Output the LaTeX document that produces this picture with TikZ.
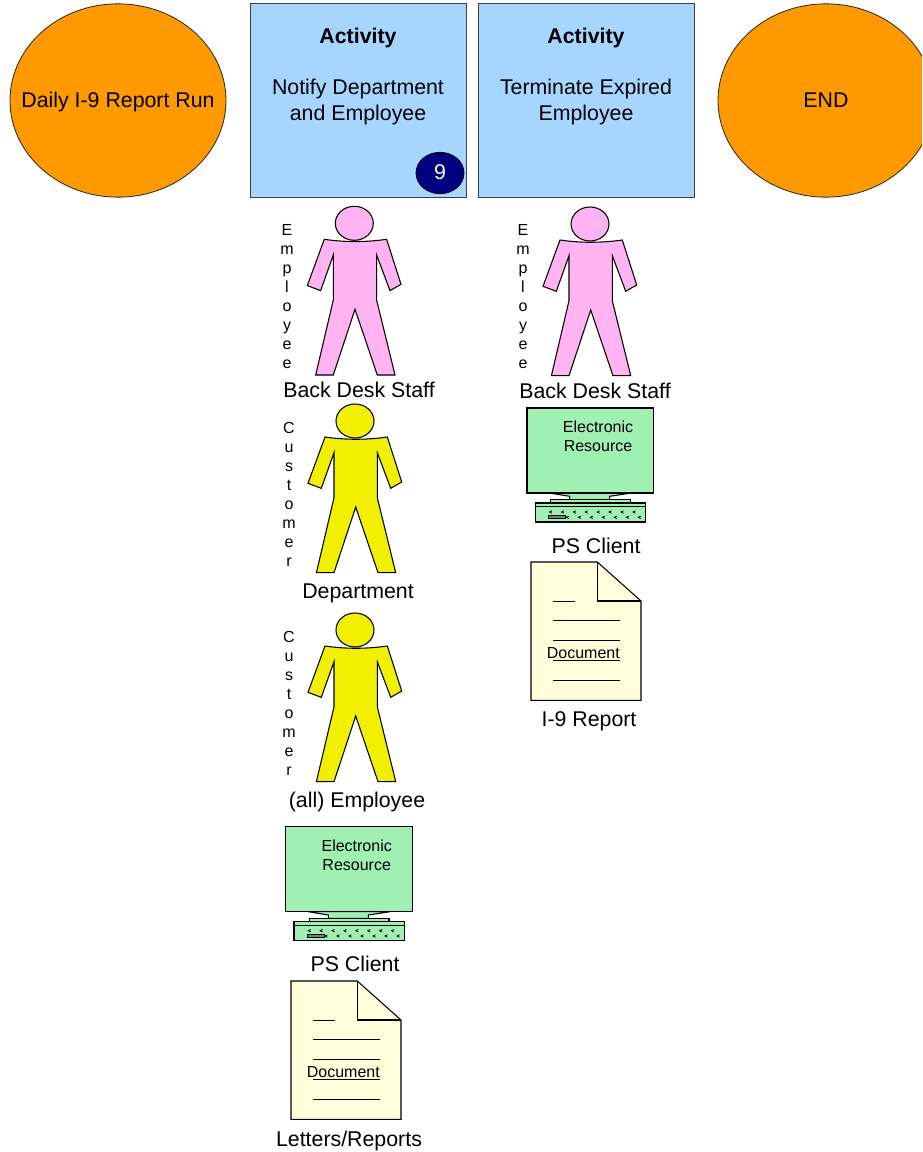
\documentclass[tikz,border=0pt]{standalone}
\usepackage{fontspec}
\setmainfont{Liberation Sans}
\usetikzlibrary{shapes.geometric}
\definecolor{actblue}{HTML}{A6D6FF}
\definecolor{startorange}{HTML}{FF9900}
\definecolor{staffpink}{HTML}{FFB3F0}
\definecolor{custyellow}{HTML}{F0F000}
\definecolor{resgreen}{HTML}{A0F0B4}
\definecolor{docyellow}{HTML}{FFFFDC}
\definecolor{badgeblue}{HTML}{000080}
\newcommand{\bigfont}{\fontsize{16}{19.5}\selectfont}
\newcommand{\smallfont}{\fontsize{12}{14.25}\selectfont}
\tikzset{%
  block/.style    = {draw=black!75, line width=0.7pt, rectangle, fill=actblue, minimum width = 162pt,
    minimum height = 145pt, inner sep = 0pt},
  startend/.style = {draw=black!85, line width=0.6pt, ellipse, fill=startorange, minimum width = 162pt,
    minimum height = 145pt, inner sep = 0pt},
  badge/.style    = {draw, line width=0.6pt, ellipse, fill=badgeblue, minimum width = 36pt,
    minimum height = 31pt, inner sep = 0pt},
  label/.style    = {anchor=base, inner sep = 0pt, font=\bigfont},
  title/.style    = {label, font=\bigfont\bfseries},
  vert/.style     = {align=center, inner sep = 0pt, font=\smallfont},
  small/.style    = {align=center, inner sep = 0pt, font=\smallfont},
  pics/person/.style = {code = {
    \draw[thick, fill=#1] (0,0) ellipse (19 and 17);
    \draw[thick, fill=#1] (-30,16) .. controls (-10,19) and (12,19) .. (32.3,16)
      -- (46.7,61) -- (35.7,67.3) -- (22.3,31.7) -- (22.3,76.7) -- (40.7,151.7)
      -- (23,151.7) -- (0.7,86) -- (-21,151.7) -- (-38.6,151.7) -- (-21,76.7)
      -- (-21,31.7) -- (-33.7,67.3) -- (-47,62.3) -- cycle;
  }},
  pics/computer/.style = {code = {
    \draw[thick, fill=resgreen] (22.6,85) -- (42.6,88.3) -- (42.6,91.7) -- (82.6,91.7)
      -- (82.6,88.3) -- (104.3,85) -- cycle;
    \draw[line width=1.1pt, fill=resgreen] (0,0) rectangle (126.6,85);
    \draw[thick, fill=resgreen] (23.7,91.7) rectangle (103.3,95);
    \draw[line width=1pt, fill=resgreen] (8.3,95) rectangle (118.7,114);
    \draw[thick] (8.3,98.5) -- (118.7,98.5);
    \foreach \i in {0,...,7} {
      \draw[line width=0.6pt] (25+\i*11.9,102.8) -- (22.6+\i*11.9,104) -- (25+\i*11.9,105.2);
    }
    \foreach \i in {0,...,6} {
      \draw[line width=0.6pt] (41.7+\i*12,108.1) -- (39.3+\i*12,109.3) -- (41.7+\i*12,110.5);
    }
    \draw[thin, fill=resgreen!60!black] (21.6,107.3) rectangle (38.3,110.7);
    \draw node at (71,28.6) [small] (restext) {Electronic\\Resource};
  }},
  pics/document/.style = {code = {
    \draw[thick, fill=docyellow] (0,0) -- (66.3,0) -- (110,39) -- (110,138.3) -- (0,138.3) -- cycle;
    \draw[thick] (66.3,0) -- (66.3,39) -- (110,39);
    \draw[thin] (22.3,39) -- (44,39);
    \foreach \y in {58.3,78.3,98.3,118} {
      \draw[thin] (22.3,\y) -- (89,\y);
    }
    \draw node at (52.3,90.7) [small] (doctext) {Document};
  }}
}

\begin{document}
\begin{tikzpicture}[x=0.75pt, y=-0.75pt, thick]

  \clip (0,0) rectangle (922,1152);

  \draw node at (118,100.5) [startend] (start) {};
  \draw node at (358,100.5) [block] (notify) {};
  \draw node at (586,100.5) [block] (terminate) {};
  \draw node at (826,100.5) [startend] (end) {};
  \draw node at (440,173) [badge] (nine) {};

  \draw node at (118,107.5) [label] (starttext) {Daily I-9 Report Run};
  \draw node at (826,108) [label] (endtext) {END};
  \draw node at (440,179.5) [label, text=white] (ninetext) {9};

  \draw node at (358,44) [title] (notifytitle) {Activity};
  \draw node at (358,95) [label] (notifya) {Notify Department};
  \draw node at (358,121) [label] (notifyb) {and Employee};
  \draw node at (586,44) [title] (terminatetitle) {Activity};
  \draw node at (586,95) [label] (terminatea) {Terminate Expired};
  \draw node at (586,121) [label] (terminateb) {Employee};

  % first column
  \pic (staffa) at (354.3,223.3) {person=staffpink};
  \pic (dept) at (355,421) {person=custyellow};
  \pic (empl) at (355,630) {person=custyellow};
  \pic (pca) at (285.7,826.7) {computer};
  \pic (doca) at (291,981) {document};

  \draw node at (287,297) [vert] (staffavert) {E\\m\\p\\l\\o\\y\\e\\e};
  \draw node at (289,494) [vert] (deptvert) {C\\u\\s\\t\\o\\m\\e\\r};
  \draw node at (289,703) [vert] (emplvert) {C\\u\\s\\t\\o\\m\\e\\r};

  \draw node at (359,397) [label] (staffalabel) {Back Desk Staff};
  \draw node at (358,598) [label] (deptlabel) {Department};
  \draw node at (357,807) [label] (empllabel) {(all) Employee};
  \draw node at (355,971) [label] (pcalabel) {PS Client};
  \draw node at (349,1146) [label] (docalabel) {Letters/Reports};

  % second column
  \pic (staffb) at (590,224) {person=staffpink};
  \pic (pcb) at (527,408) {computer};
  \pic (docb) at (531,562) {document};

  \draw node at (523,297) [vert] (staffbvert) {E\\m\\p\\l\\o\\y\\e\\e};

  \draw node at (595,398) [label] (staffblabel) {Back Desk Staff};
  \draw node at (596,553) [label] (pcblabel) {PS Client};
  \draw node at (589,726) [label] (docblabel) {I-9 Report};

\end{tikzpicture}
\end{document}
